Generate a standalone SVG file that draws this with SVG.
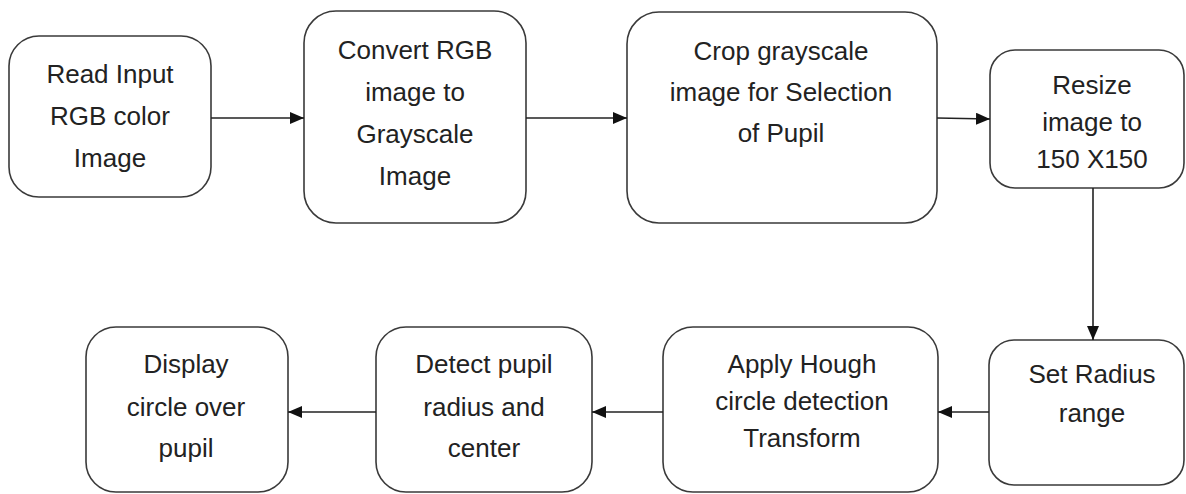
<svg xmlns="http://www.w3.org/2000/svg" width="1186" height="494" viewBox="0 0 1186 494">
  <style>
    .box { fill: #ffffff; stroke: #3a3a3a; stroke-width: 1.6; }
    .lbl { font-family: "Liberation Sans", Arial, sans-serif; font-size: 26px; fill: #222222; text-anchor: middle; }
    .conn { stroke: #222222; stroke-width: 1.6; fill: none; marker-end: url(#arrow); }
  </style>
  <defs>
    <marker id="arrow" viewBox="0 0 14 12" refX="14" refY="6" markerWidth="14" markerHeight="12" markerUnits="userSpaceOnUse" orient="auto">
      <path d="M0,0 L14,6 L0,12 Z" fill="#111111"/>
    </marker>
  </defs>
  <rect width="1186" height="494" fill="#ffffff"/>

  <g id="n1">
    <rect class="box" x="9" y="36" width="202" height="161" rx="30" ry="30"/>
    <text class="lbl" x="110" y="83">Read Input</text>
    <text class="lbl" x="110" y="125">RGB color</text>
    <text class="lbl" x="110" y="167">Image</text>
  </g>
  <g id="n2">
    <rect class="box" x="304" y="11" width="222" height="212" rx="32" ry="32"/>
    <text class="lbl" x="415" y="59">Convert RGB</text>
    <text class="lbl" x="415" y="101">image to</text>
    <text class="lbl" x="415" y="143">Grayscale</text>
    <text class="lbl" x="415" y="185">Image</text>
  </g>
  <g id="n3">
    <rect class="box" x="627" y="12" width="310" height="211" rx="32" ry="32"/>
    <text class="lbl" x="781" y="60">Crop grayscale</text>
    <text class="lbl" x="781" y="101">image for Selection</text>
    <text class="lbl" x="781" y="142">of Pupil</text>
  </g>
  <g id="n4">
    <rect class="box" x="990" y="50" width="194" height="138" rx="25" ry="25"/>
    <text class="lbl" x="1092" y="94">Resize</text>
    <text class="lbl" x="1092" y="131">image to</text>
    <text class="lbl" x="1092" y="168">150 X150</text>
  </g>
  <g id="n5">
    <rect class="box" x="989" y="340" width="195" height="145" rx="25" ry="25"/>
    <text class="lbl" x="1092" y="383">Set Radius</text>
    <text class="lbl" x="1092" y="422">range</text>
  </g>
  <g id="n6">
    <rect class="box" x="663" y="327" width="275" height="165" rx="30" ry="30"/>
    <text class="lbl" x="802" y="373">Apply Hough</text>
    <text class="lbl" x="802" y="410">circle detection</text>
    <text class="lbl" x="802" y="447">Transform</text>
  </g>
  <g id="n7">
    <rect class="box" x="376" y="327" width="216" height="165" rx="30" ry="30"/>
    <text class="lbl" x="484" y="373">Detect pupil</text>
    <text class="lbl" x="484" y="416">radius and</text>
    <text class="lbl" x="484" y="457">center</text>
  </g>
  <g id="n8">
    <rect class="box" x="86" y="327" width="202" height="165" rx="30" ry="30"/>
    <text class="lbl" x="186" y="373">Display</text>
    <text class="lbl" x="186" y="416">circle over</text>
    <text class="lbl" x="186" y="457">pupil</text>
  </g>

  <g id="connectors">
    <line class="conn" x1="211" y1="118" x2="304" y2="118"/>
    <line class="conn" x1="526" y1="118" x2="627" y2="118"/>
    <line class="conn" x1="937" y1="118" x2="990" y2="119"/>
    <line class="conn" x1="1093" y1="188" x2="1093" y2="340"/>
    <line class="conn" x1="989" y1="412" x2="938" y2="412"/>
    <line class="conn" x1="663" y1="412" x2="592" y2="412"/>
    <line class="conn" x1="376" y1="412" x2="288" y2="412"/>
  </g>
</svg>
